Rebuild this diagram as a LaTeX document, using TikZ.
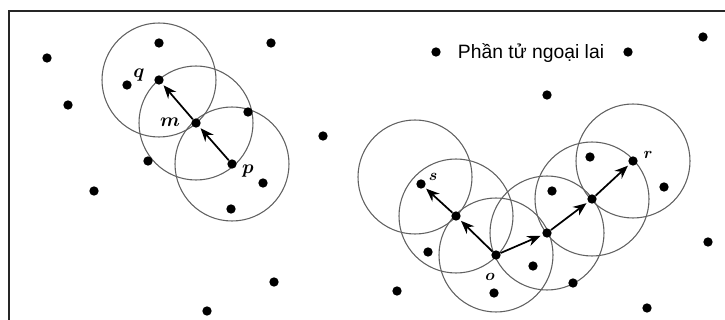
\documentclass[tikz,border=0pt]{standalone}
\usepackage{fontspec}
\newfontfamily\labelfont{Liberation Sans}
\usetikzlibrary{arrows.meta,backgrounds}
\begin{document}
\begin{tikzpicture}[x=0.75pt,y=-0.75pt,
  pt/.style={circle,fill=black,inner sep=0pt,minimum size=7pt},
  ring/.style={draw=black!62,line width=0.8pt},
  arr/.style={-{Stealth[length=10pt,width=8pt]},line width=1.3pt,shorten >=1.5pt},
  lblA/.style={font=\fontsize{15}{17}\selectfont\boldmath},
  lblB/.style={font=\fontsize{12}{14}\selectfont\boldmath},
  frame/.style={line width=1.8pt,draw=black!85}]
\useasboundingbox (0,0) rectangle (725,320);
% frame
\coordinate (fTL) at (9,11);
\coordinate (fTR) at (725,11);
\coordinate (fBL) at (9,320);
\draw[frame] (fTR) -- (fTL) -- (fBL);
% left cluster points
\node[pt] (a1) at (47,58) {};
\node[pt] (a2) at (159,43) {};
\node[pt] (a3) at (271,43) {};
\node[pt] (a4) at (127,85) {};
\node[pt] (q) at (159,80) {};
\node[pt] (a5) at (68,105) {};
\node[pt] (m) at (196,123) {};
\node[pt] (a6) at (248,112) {};
\node[pt] (a7) at (323,136) {};
\node[pt] (a8) at (148,161) {};
\node[pt] (p) at (232,164) {};
\node[pt] (a9) at (263,183) {};
\node[pt] (a10) at (94,191) {};
\node[pt] (a11) at (231,209) {};
\node[pt] (a12) at (274,282) {};
\node[pt] (a13) at (207,311) {};
% right cluster points
\node[pt] (b1) at (436,52) {};
\node[pt] (b2) at (628,52) {};
\node[pt] (b3) at (703,37) {};
\node[pt] (b4) at (547,95) {};
\node[pt] (s) at (421,184) {};
\node[pt] (n1) at (456,216) {};
\node[pt] (o) at (496,255) {};
\node[pt] (n2) at (547,233) {};
\node[pt] (n3) at (592,199) {};
\node[pt] (r) at (633,161) {};
\node[pt] (b5) at (590,157) {};
\node[pt] (b6) at (664,187) {};
\node[pt] (b7) at (552,191) {};
\node[pt] (b8) at (428,252) {};
\node[pt] (b9) at (533,266) {};
\node[pt] (b10) at (573,283) {};
\node[pt] (b11) at (494,293) {};
\node[pt] (b12) at (397,291) {};
\node[pt] (b13) at (647,308) {};
\node[pt] (b14) at (708,242) {};
% circles (behind the points)
\coordinate (sc) at (415,177);
\begin{scope}[on background layer]
\foreach \c in {q,m,p,sc,n1,o,n2,n3,r}
  \draw[ring] (\c.center) circle[radius=42.75pt];
\end{scope}
% arrows
\draw[arr] (p) -- (m);
\draw[arr] (m) -- (q);
\draw[arr] (o) -- (n1);
\draw[arr] (n1) -- (s);
\draw[arr] (o) -- (n2);
\draw[arr] (n2) -- (n3);
\draw[arr] (n3) -- (r);
% labels
\node[lblA] (lq) at (139,75) {$q$};
\node[lblA] (lm) at (170,122) {$m$};
\node[lblA] (lp) at (248,171) {$p$};
\node[lblB] (ls) at (433,177) {$s$};
\node[lblB] (lo) at (490,277) {$o$};
\node[lblB] (lr) at (648,155) {$r$};
\node[font=\labelfont\fontsize{14.5}{16}\selectfont,inner sep=0pt] (title) at (531,53) {Phần tử ngoại lai};
\end{tikzpicture}
\end{document}
